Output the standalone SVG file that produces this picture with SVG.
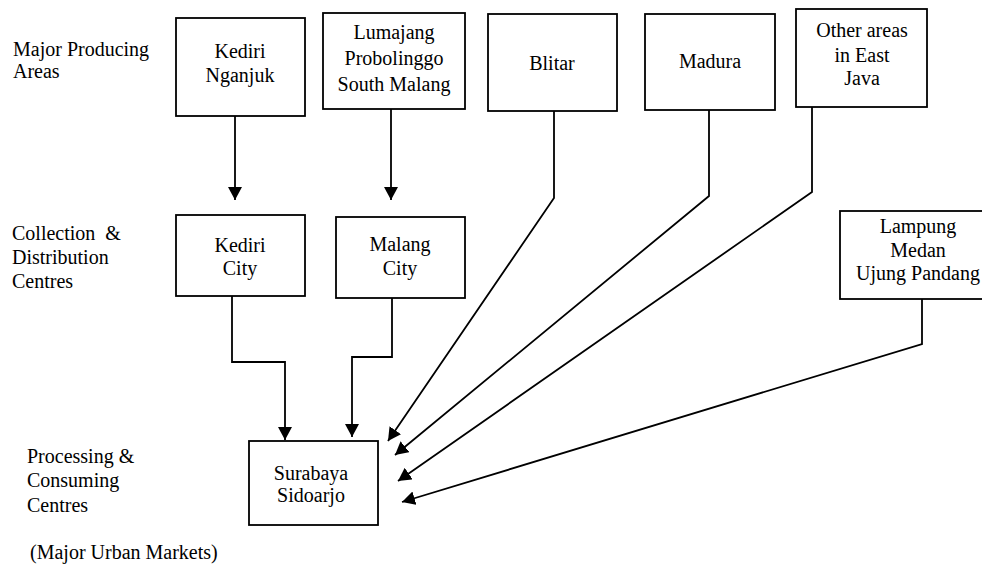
<svg xmlns="http://www.w3.org/2000/svg" width="982" height="565" viewBox="0 0 982 565" font-family="Liberation Serif, serif">
  <style>
    .box { fill: #fff; stroke: #000; stroke-width: 1.8; }
    text { font-family: "Liberation Serif", serif; font-size: 20px; fill: #000; }
    .mid { text-anchor: middle; }
    .link { fill: none; stroke: #000; stroke-width: 1.8; marker-end: url(#arrow); }
  </style>
  <defs>
    <marker id="arrow" markerUnits="userSpaceOnUse" markerWidth="14" markerHeight="14" refX="13" refY="7" orient="auto">
      <path d="M0,0 L13,7 L0,14 z" fill="#000"/>
    </marker>
  </defs>
  <rect width="982" height="565" fill="#fff"/>

  <!-- tier labels -->
  <g id="tier-labels">
    <text x="13" y="56">Major Producing</text>
    <text x="13" y="78">Areas</text>
    <text x="12" y="240" xml:space="preserve">Collection  &amp;</text>
    <text x="12" y="264">Distribution</text>
    <text x="12" y="288">Centres</text>
    <text x="27" y="463">Processing &amp;</text>
    <text x="27" y="487">Consuming</text>
    <text x="27" y="512">Centres</text>
    <text x="30" y="559">(Major Urban Markets)</text>
  </g>

  <!-- producing areas -->
  <g id="kediri-nganjuk">
    <rect class="box" x="176" y="18" width="129" height="98"/>
    <text class="mid" x="240" y="58">Kediri</text>
    <text class="mid" x="240" y="82">Nganjuk</text>
  </g>
  <g id="lumajang">
    <rect class="box" x="323" y="13" width="142" height="96"/>
    <text class="mid" x="394" y="39">Lumajang</text>
    <text class="mid" x="394" y="65">Probolinggo</text>
    <text class="mid" x="394" y="91">South Malang</text>
  </g>
  <g id="blitar">
    <rect class="box" x="488" y="14" width="129" height="97"/>
    <text class="mid" x="552" y="70">Blitar</text>
  </g>
  <g id="madura">
    <rect class="box" x="645" y="14" width="130" height="96"/>
    <text class="mid" x="710" y="68">Madura</text>
  </g>
  <g id="other-east-java">
    <rect class="box" x="796" y="9" width="131" height="98"/>
    <text class="mid" x="862" y="37">Other areas</text>
    <text class="mid" x="862" y="62">in East</text>
    <text class="mid" x="862" y="85">Java</text>
  </g>

  <!-- collection & distribution centres -->
  <g id="kediri-city">
    <rect class="box" x="176" y="215" width="129" height="81"/>
    <text class="mid" x="240" y="252">Kediri</text>
    <text class="mid" x="240" y="275">City</text>
  </g>
  <g id="malang-city">
    <rect class="box" x="336" y="217" width="129" height="81"/>
    <text class="mid" x="400" y="251">Malang</text>
    <text class="mid" x="400" y="275">City</text>
  </g>
  <g id="outer-islands">
    <rect class="box" x="840" y="211" width="150" height="88"/>
    <text class="mid" x="918" y="233">Lampung</text>
    <text class="mid" x="918" y="257">Medan</text>
    <text class="mid" x="918" y="280">Ujung Pandang</text>
  </g>

  <!-- processing & consuming centre -->
  <g id="surabaya-sidoarjo">
    <rect class="box" x="249" y="441" width="129" height="84"/>
    <text class="mid" x="311" y="480">Surabaya</text>
    <text class="mid" x="311" y="502">Sidoarjo</text>
  </g>

  <!-- flows -->
  <g id="connectors">
    <path class="link" d="M235,116 V200"/>
    <path class="link" d="M391,109 V200"/>
    <path class="link" d="M232,296 V362 H285 V440"/>
    <path class="link" d="M392,298 V357 H352 V437"/>
    <path class="link" d="M554,111 V198 L388,441"/>
    <path class="link" d="M709,110 V196 L395,455"/>
    <path class="link" d="M812,107 V192 L398,481"/>
    <path class="link" d="M922,299 V344 L402,502"/>
  </g>
</svg>
